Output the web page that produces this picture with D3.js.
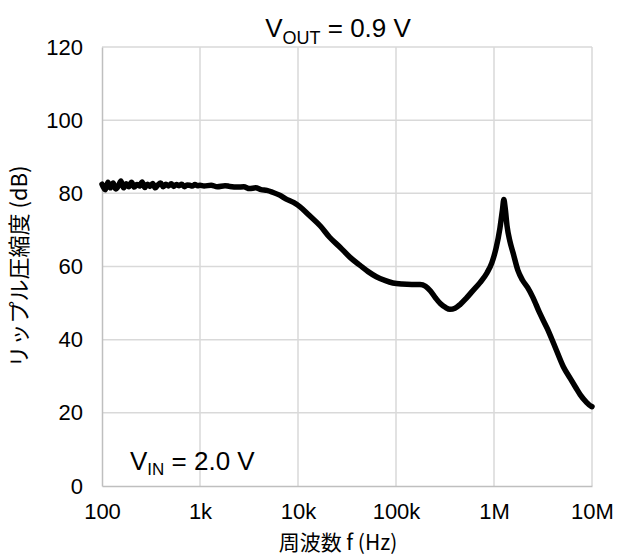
<!DOCTYPE html>
<html>
<head>
<meta charset="utf-8">
<script src="https://cdn.jsdelivr.net/npm/d3@7"></script>
<style>
  html, body { margin: 0; padding: 0; background: #fff; }
  svg { display: block; }
  text { font-family: "Liberation Sans", Arial, sans-serif; fill: #000; }
  .jp { font-family: "Noto Sans CJK JP", "Liberation Sans", sans-serif; }
</style>
</head>
<body>
<svg id="chart" width="618" height="557"></svg>
<script>
const frequencies = [
  100,108,115,122,130,138,147,156,166,177,188,200,213,227,241,257,273,291,309,329,
  350,372,396,422,449,478,508,541,575,612,651,693,737,784,834,888,945,1000,
  1100,1300,1500,1800,2000,2400,2800,3200,3700,4200,4800,5500,6500,7500,9000,
  10500,13000,17000,21000,27000,34000,43000,52000,63000,77000,93000,
  115000,145000,176000,200000,225000,255000,285000,320000,355000,400000,450000,
  520000,600000,720000,850000,950000,1050000,1150000,1220000,1260000,1300000,
  1360000,1450000,1570000,1750000,1950000,2200000,2500000,2900000,3500000,
  4200000,5100000,6000000,6800000,7600000,8700000,9800000,10000000
];
const rippleDb = [
  82.5,81.0,83.0,81.5,82.8,81.2,82.0,83.4,81.5,82.6,81.8,83.0,81.7,82.4,82.0,83.1,81.6,82.5,81.9,82.7,
  81.5,82.3,82.8,81.8,82.5,82.0,82.6,81.9,82.4,82.1,82.5,81.8,82.3,82.2,82.0,82.4,82.1,82.2,
  82.0,82.2,81.8,82.1,81.9,81.7,81.8,81.3,81.5,81.0,80.8,80.3,79.5,78.5,77.5,
  76.3,74.0,71.0,68.0,65.2,62.5,60.3,58.6,57.2,56.2,55.5,
  55.2,55.1,55.1,54.6,53.3,51.3,49.8,48.8,48.3,48.6,49.6,
  51.3,53.2,55.6,58.3,61.0,65.0,70.5,75.5,78.3,76.0,
  71.0,67.0,63.6,59.0,56.3,54.3,51.5,47.5,43.0,
  38.0,32.6,29.4,27.0,24.9,23.0,21.8,21.7
];
const xTickValues = [100, 1e3, 1e4, 1e5, 1e6, 1e7];
const xTickLabels = ["100", "1k", "10k", "100k", "1M", "10M"];
const yTickValues = [0, 20, 40, 60, 80, 100, 120];

const svg = d3.select("#chart");
const plotL = 102, plotR = 592, plotT = 47, plotB = 486;

const x = d3.scaleLog().domain([100, 1e7]).range([plotL, plotR]);
const y = d3.scaleLinear().domain([0, 120]).range([plotB, plotT]);

// gridlines
const grid = svg.append("g");
grid.selectAll("line.v").data(xTickValues.slice(1)).enter().append("line")
  .attr("x1", d => x(d)).attr("x2", d => x(d))
  .attr("y1", plotT).attr("y2", plotB)
  .attr("stroke", "#d9d9d9").attr("stroke-width", 1.5);
grid.selectAll("line.h").data(yTickValues.slice(1)).enter().append("line")
  .attr("x1", plotL).attr("x2", plotR)
  .attr("y1", d => y(d)).attr("y2", d => y(d))
  .attr("stroke", "#d9d9d9").attr("stroke-width", 1.5);

// axes
const xAxis = d3.axisBottom(x).tickValues(xTickValues)
  .tickFormat((d, i) => xTickLabels[i]).tickSize(0).tickPadding(17);
const gx = svg.append("g").attr("transform", `translate(0,${plotB})`).call(xAxis);
gx.select(".domain").attr("stroke", "#bfbfbf").attr("stroke-width", 1.5);
gx.selectAll("text").style("font-size", "22px").style("font-family", "'Liberation Sans', Arial, sans-serif");

const yAxis = d3.axisLeft(y).tickValues(yTickValues).tickSize(0).tickPadding(19);
const gy = svg.append("g").attr("transform", `translate(${plotL},0)`).call(yAxis);
gy.select(".domain").attr("stroke", "#bfbfbf").attr("stroke-width", 1.5);
gy.selectAll("text").style("font-size", "22px").style("font-family", "'Liberation Sans', Arial, sans-serif");

// curve
const line = d3.line()
  .x((d, i) => x(frequencies[i]))
  .y(d => y(d))
  .curve(d3.curveMonotoneX);
svg.append("path").datum(rippleDb)
  .attr("d", line)
  .attr("fill", "none").attr("stroke", "#000")
  .attr("stroke-width", 5.5)
  .attr("stroke-linejoin", "round").attr("stroke-linecap", "round");

// title
const title = svg.append("text").attr("x", 338).attr("y", 37)
  .attr("text-anchor", "middle").style("font-size", "26px");
title.append("tspan").text("V");
title.append("tspan").attr("dy", 7).style("font-size", "18px").text("OUT");
title.append("tspan").attr("dy", -7).text(" = 0.9 V");

// annotation
const ann = svg.append("text").attr("x", 130).attr("y", 470).style("font-size", "26px");
ann.append("tspan").text("V");
ann.append("tspan").attr("dy", 5).style("font-size", "17px").text("IN");
ann.append("tspan").attr("dy", -5).text(" = 2.0 V");

// axis titles
svg.append("text").attr("class", "jp")
  .attr("x", 338).attr("y", 550).attr("text-anchor", "middle")
  .style("font-size", "21px")
  .text("周波数 f (Hz)");
svg.append("text").attr("class", "jp")
  .attr("transform", `translate(27,${(plotT + plotB) / 2}) rotate(-90)`)
  .attr("text-anchor", "middle")
  .style("font-size", "22px")
  .text("リップル圧縮度 (dB)");
</script>
</body>
</html>
